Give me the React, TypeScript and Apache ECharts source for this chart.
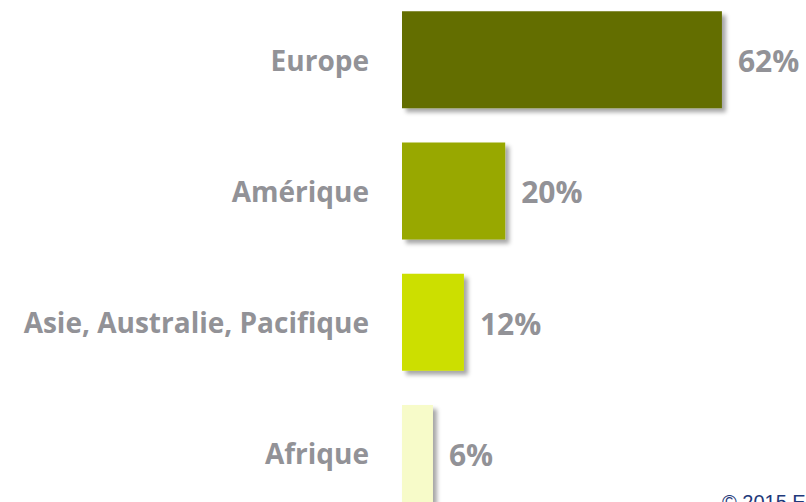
import React, { useEffect, useRef } from "react";
import * as echarts from "echarts";

const categories = ["Europe", "Amérique", "Asie, Australie, Pacifique", "Afrique"];
const values = [62, 20, 12, 6];
const barColors = ["#636E00", "#98A804", "#CCDF00", "#F7FBC9"];
const copyright = "© 2015 E";

export default function App() {
  const ref = useRef<HTMLDivElement>(null);
  useEffect(() => {
    document.body.style.margin = "0";
    const chart = echarts.init(ref.current!, null, { renderer: "svg" });
    chart.setOption({
      animation: false,
      backgroundColor: "#ffffff",
      grid: { left: 402, top: 0, width: 361.2, height: 525, containLabel: false },
      xAxis: {
        type: "value",
        min: 0,
        max: 70,
        show: false,
      },
      yAxis: {
        type: "category",
        inverse: true,
        data: categories,
        axisLine: { show: false },
        axisTick: { show: false },
        splitLine: { show: false },
        axisLabel: {
          margin: 33,
          color: "#929297",
          fontFamily: "Open Sans",
          fontWeight: "bold",
          fontSize: 28,
        },
      },
      series: [
        {
          type: "bar",
          barWidth: 97,
          data: values.map((v, i) => ({ value: v, itemStyle: { color: barColors[i] } })),
          itemStyle: {
            shadowColor: "rgba(0,0,0,0.35)",
            shadowBlur: 4,
            shadowOffsetX: 4,
            shadowOffsetY: 4,
          },
          label: {
            show: true,
            position: "right",
            distance: 16,
            formatter: "{c}%",
            color: "#929297",
            fontFamily: "Open Sans",
            fontWeight: "bold",
            fontSize: 30,
            offset: [0, 1],
          },
        },
      ],
      graphic: [
        {
          type: "text",
          left: 722,
          top: 498,
          style: {
            text: copyright,
            fill: "#1F3A7A",
            font: "20px 'Liberation Sans', Arial, sans-serif",
          },
        },
      ],
    });
    return () => chart.dispose();
  }, []);
  return (
    <div style={{ width: 806, height: 502, overflow: "hidden", position: "relative" }}>
      <div ref={ref} style={{ position: "absolute", left: 0, top: -6, width: 806, height: 530 }} />
    </div>
  );
}
